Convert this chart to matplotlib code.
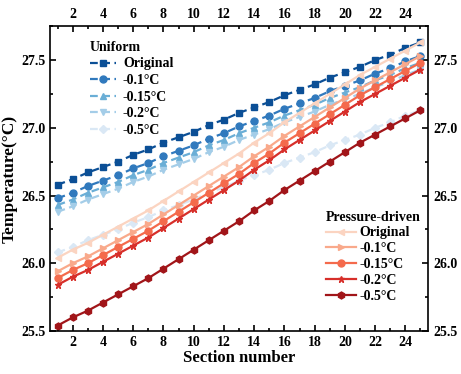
import matplotlib
matplotlib.use("Agg")
import matplotlib.pyplot as plt
from matplotlib.ticker import MultipleLocator

plt.rcParams['font.family'] = ['Liberation Serif', 'DejaVu Serif']
plt.rcParams['font.weight'] = 'bold'
plt.rcParams['mathtext.default'] = 'regular'

sections = list(range(1, 26))

# uniform cooling cases
uni_original = [26.58, 26.62, 26.67, 26.71, 26.75, 26.80, 26.84, 26.89, 26.93, 26.97,
                27.02, 27.06, 27.11, 27.15, 27.19, 27.24, 27.28, 27.32, 27.37, 27.41,
                27.45, 27.50, 27.54, 27.59, 27.63]
uni_01 = [26.48, 26.52, 26.57, 26.61, 26.65, 26.70, 26.74, 26.79, 26.83, 26.87,
          26.92, 26.96, 27.01, 27.05, 27.09, 27.14, 27.18, 27.22, 27.27, 27.31,
          27.35, 27.40, 27.44, 27.49, 27.53]
uni_015 = [26.43, 26.47, 26.52, 26.56, 26.60, 26.65, 26.69, 26.74, 26.78, 26.82,
           26.87, 26.91, 26.96, 27.00, 27.04, 27.09, 27.13, 27.17, 27.22, 27.26,
           27.30, 27.35, 27.39, 27.44, 27.48]
uni_02 = [26.38, 26.42, 26.47, 26.51, 26.55, 26.60, 26.64, 26.69, 26.73, 26.77,
          26.82, 26.86, 26.91, 26.95, 26.99, 27.04, 27.08, 27.12, 27.17, 27.21,
          27.25, 27.30, 27.34, 27.39, 27.43]
uni_05 = [26.08, 26.12, 26.17, 26.21, 26.25, 26.30, 26.34, 26.39, 26.43, 26.47,
          26.52, 26.56, 26.61, 26.65, 26.69, 26.74, 26.78, 26.82, 26.87, 26.91,
          26.95, 27.00, 27.04, 27.09, 27.13]

# pressure-driven cases
pre_original = [26.04, 26.10, 26.15, 26.21, 26.27, 26.33, 26.39, 26.46, 26.53, 26.60,
                26.67, 26.74, 26.81, 26.89, 26.96, 27.04, 27.11, 27.18, 27.25, 27.32,
                27.39, 27.45, 27.51, 27.57, 27.63]
pre_01 = [25.94, 26.00, 26.05, 26.11, 26.17, 26.23, 26.29, 26.36, 26.43, 26.50,
          26.57, 26.64, 26.71, 26.79, 26.86, 26.94, 27.01, 27.08, 27.15, 27.22,
          27.29, 27.35, 27.41, 27.47, 27.53]
pre_015 = [25.89, 25.95, 26.00, 26.06, 26.12, 26.18, 26.24, 26.31, 26.38, 26.45,
           26.52, 26.59, 26.66, 26.74, 26.81, 26.89, 26.96, 27.03, 27.10, 27.17,
           27.24, 27.30, 27.36, 27.42, 27.48]
pre_02 = [25.84, 25.90, 25.95, 26.01, 26.07, 26.13, 26.19, 26.26, 26.33, 26.40,
          26.47, 26.54, 26.61, 26.69, 26.76, 26.84, 26.91, 26.98, 27.05, 27.12,
          27.19, 27.25, 27.31, 27.37, 27.43]
pre_05 = [25.54, 25.60, 25.65, 25.71, 25.77, 25.83, 25.89, 25.96, 26.03, 26.10,
          26.17, 26.24, 26.31, 26.39, 26.46, 26.54, 26.61, 26.68, 26.75, 26.82,
          26.89, 26.95, 27.01, 27.07, 27.13]

labels = ['Original', '-0.1°C', '-0.15°C', '-0.2°C', '-0.5°C']
uni_series = [uni_original, uni_01, uni_015, uni_02, uni_05]
pre_series = [pre_original, pre_01, pre_015, pre_02, pre_05]
blues = ['#0b4f96', '#3079bd', '#6aaed6', '#a4cde8', '#dae8f5']
reds = ['#fbd4c1', '#f9a98b', '#f46a4c', '#d72f2a', '#a11519']
uni_markers = ['s', 'o', '^', 'v', 'D']
pre_markers = ['<', '>', 'o', '*', 'h']

fig = plt.figure(figsize=(4.61, 3.74), dpi=100)
ax = fig.add_axes([0.1085, 0.115, 0.8200, 0.815])

uni_lines = []
for vals, c, m, lab in zip(uni_series, blues, uni_markers, labels):
    ms = 4 if m == 'D' else 5
    ln, = ax.plot(sections, vals, color=c, linestyle=(0, (3.5, 2)), linewidth=1.6,
                  marker=m, markersize=ms, label=lab)
    uni_lines.append(ln)

pre_lines = []
for vals, c, m, lab in zip(pre_series, reds, pre_markers, labels):
    ln, = ax.plot(sections, vals, color=c, linestyle='-', linewidth=1.6,
                  marker=m, markersize=5, label=lab)
    pre_lines.append(ln)

ax.set_xlim(0.5, 25.5)
ax.set_ylim(25.5, 27.75)
ax.xaxis.set_major_locator(MultipleLocator(2))
ax.xaxis.set_minor_locator(MultipleLocator(1))
ax.yaxis.set_major_locator(MultipleLocator(0.5))
ax.yaxis.set_minor_locator(MultipleLocator(0.25))
ax.tick_params(which='both', direction='in', top=True, right=True,
               labeltop=True, labelright=True, labelsize=10, width=1.2)
ax.tick_params(which='major', length=4)
ax.tick_params(which='minor', length=2.5)
for s in ax.spines.values():
    s.set_linewidth(1.2)

ax.set_xlabel('Section number', fontsize=12, fontweight='bold', labelpad=1)
ax.set_ylabel('Temperature(°C)', fontsize=12.5, fontweight='bold', labelpad=2)

leg1 = ax.legend(handles=uni_lines, title='Uniform', loc='upper left',
                 bbox_to_anchor=(0.09, 0.97), frameon=False, fontsize=10,
                 title_fontproperties={'weight': 'bold', 'size': 10},
                 handlelength=1.9, handletextpad=0.5, labelspacing=0.26,
                 alignment='left', borderaxespad=0)
ax.add_artist(leg1)
ax.legend(handles=pre_lines, title='Pressure-driven', loc='lower right',
          bbox_to_anchor=(0.995, 0.075), frameon=False, fontsize=10,
          title_fontproperties={'weight': 'bold', 'size': 10},
          handlelength=2.2, handletextpad=0.2, labelspacing=0.2,
          alignment='left', borderaxespad=0)

fig.savefig('out.png', dpi=100)
